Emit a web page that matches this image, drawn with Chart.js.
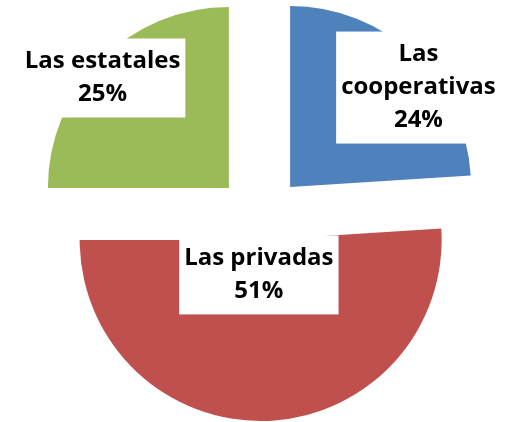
<!DOCTYPE html>
<html lang="es">
<head>
<meta charset="UTF-8">
<title>Tipos de empresas</title>
<script src="https://cdn.jsdelivr.net/npm/chart.js"></script>
<style>
    html, body { margin: 0; padding: 0; background: #ffffff; }
    #caixa { width: 512px; height: 422px; }
</style>
</head>
<body>
<div id="caixa"><canvas id="grafico"></canvas></div>
<script>
    var categorias = ['Las cooperativas', 'Las privadas', 'Las estatales'];
    var porcentagens = [24, 51, 25];

    var cores = ['#4F81BD', '#C0504D', '#9BBB59'];
    var separacao = [44, 21, 44];
    // centro do rotulo relativo ao centro da fatia, em fracao do raio
    var posRotulo = [[0.709, -0.549], [-0.01, 0.193], [-0.698, -0.607]];

    // offset = deslocamento em px, sem aumentar o raio da fatia
    var desenhoOriginal = Chart.ArcElement.prototype.draw;
    Chart.ArcElement.prototype.draw = function (ctx) {
        var opts = this.options;
        var d = opts.offset || 0;
        var meio = (this.startAngle + this.endAngle) / 2;
        ctx.save();
        ctx.translate(Math.cos(meio) * d, Math.sin(meio) * d);
        this.options = Object.assign({}, opts, { offset: 0 });
        desenhoOriginal.call(this, ctx);
        this.options = opts;
        ctx.restore();
    };

    function quebrar(ctx, texto, max) {
        var palavras = texto.split(' ');
        var linhas = [];
        var atual = '';
        for (var i = 0; i < palavras.length; i++) {
            var teste = atual ? atual + ' ' + palavras[i] : palavras[i];
            if (atual && ctx.measureText(teste).width > max) {
                linhas.push(atual);
                atual = palavras[i];
            } else {
                atual = teste;
            }
        }
        linhas.push(atual);
        return linhas;
    }

    var rotulos = {
        id: 'rotulos',
        afterDatasetsDraw: function (chart) {
            var ctx = chart.ctx;
            var arcos = chart.getDatasetMeta(0).data;
            var passo = 33;
            ctx.save();
            ctx.font = 'bold 24px "Open Sans"';
            ctx.textAlign = 'center';
            ctx.textBaseline = 'middle';
            for (var i = 0; i < arcos.length; i++) {
                var a = arcos[i];
                var meio = (a.startAngle + a.endAngle) / 2;
                var d = a.options.offset || 0;
                var cx = a.x + Math.cos(meio) * d;
                var cy = a.y + Math.sin(meio) * d;
                var x = cx + posRotulo[i][0] * a.outerRadius;
                var y = cy + posRotulo[i][1] * a.outerRadius;

                var linhas = quebrar(ctx, categorias[i], 175);
                linhas.push(porcentagens[i] + '%');
                var largura = 0;
                linhas.forEach(function (l) { largura = Math.max(largura, ctx.measureText(l).width); });
                var w = largura + 10;
                var h = linhas.length * passo + 13;

                ctx.fillStyle = '#ffffff';
                ctx.fillRect(x - w / 2, y - h / 2, w, h);
                ctx.fillStyle = '#000000';
                for (var k = 0; k < linhas.length; k++) {
                    ctx.fillText(linhas[k], x, y - (linhas.length - 1) * passo / 2 + k * passo);
                }
            }
            ctx.restore();
        }
    };

    new Chart(document.getElementById('grafico'), {
        type: 'pie',
        data: {
            labels: categorias,
            datasets: [{
                data: porcentagens,
                backgroundColor: cores,
                borderWidth: 0,
                offset: separacao
            }]
        },
        options: {
            responsive: true,
            maintainAspectRatio: false,
            animation: false,
            radius: 181,
            layout: { padding: { left: 8, top: 16 } },
            plugins: {
                legend: { display: false },
                tooltip: { enabled: false }
            }
        },
        plugins: [rotulos]
    });
</script>
</body>
</html>
